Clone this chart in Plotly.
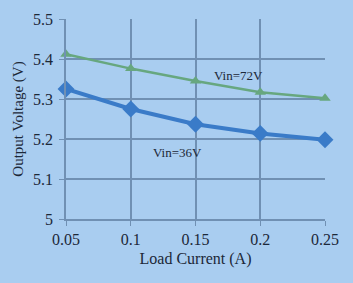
import plotly.graph_objects as go

load_current = [0.05, 0.1, 0.15, 0.2, 0.25]
vout_36v = [5.325, 5.275, 5.237, 5.214, 5.198]
vout_72v = [5.412, 5.376, 5.345, 5.317, 5.302]
x_ticks = [0.05, 0.1, 0.15, 0.2, 0.25]
x_tick_text = ["0.05", "0.1", "0.15", "0.2", "0.25"]
y_ticks = [5.0, 5.1, 5.2, 5.3, 5.4, 5.5]
y_tick_text = ["5", "5.1", "5.2", "5.3", "5.4", "5.5"]

bg = "#A9CDF0"
grid = "#7090B3"
font = "Liberation Serif"
txt = "#1C2838"

fig = go.Figure()
fig.add_trace(go.Scatter(x=load_current, y=vout_72v, mode="lines+markers",
                         line=dict(color="#67A77F", width=2.5),
                         marker=dict(symbol="triangle-up", size=10, color="#67A77F"),
                         showlegend=False, cliponaxis=False))
fig.add_trace(go.Scatter(x=load_current, y=vout_36v, mode="lines+markers",
                         line=dict(color="#3A7BC8", width=4),
                         marker=dict(symbol="diamond", size=13, color="#3A7BC8"),
                         showlegend=False, cliponaxis=False))

fig.add_annotation(x=0.183, y=5.36, text="Vin=72V", showarrow=False,
                   font=dict(family=font, size=13, color=txt))
fig.add_annotation(x=0.136, y=5.167, text="Vin=36V", showarrow=False,
                   font=dict(family=font, size=13, color=txt))

fig.update_layout(
    width=353, height=283,
    margin=dict(l=66, r=28, t=19, b=64),
    paper_bgcolor=bg, plot_bgcolor=bg,
    font=dict(family=font, size=16, color=txt),
)
fig.update_xaxes(range=[0.05, 0.25], tickvals=x_ticks, ticktext=x_tick_text,
                 showgrid=True, gridcolor=grid, gridwidth=1.5,
                 showline=True, linecolor=grid, linewidth=1.5, mirror=False,
                 ticks="outside", ticklen=5, tickcolor=grid,
                 zeroline=False, tickfont=dict(size=16),
                 title=dict(text="Load Current (A)", font=dict(size=16), standoff=6))
fig.update_yaxes(range=[5.0, 5.5], tickvals=y_ticks, ticktext=y_tick_text,
                 showgrid=True, gridcolor=grid, gridwidth=1.5,
                 showline=True, linecolor=grid, linewidth=1.5,
                 ticks="outside", ticklen=5, tickcolor=grid,
                 zeroline=False, tickfont=dict(size=16), ticklabelstandoff=3,
                 title=dict(text="Output Voltage (V)", font=dict(size=15), standoff=6))

fig.write_html("out.html")
